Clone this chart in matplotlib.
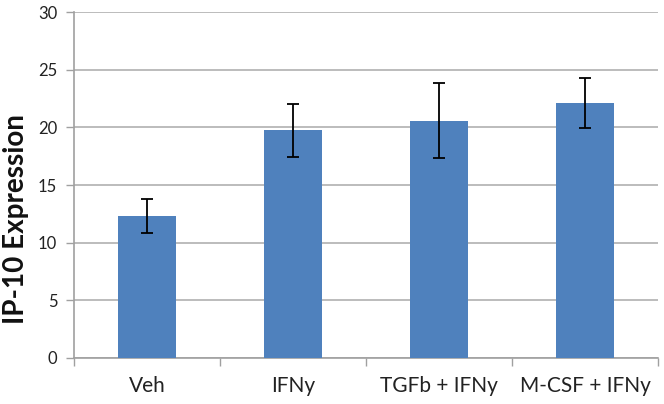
import matplotlib
matplotlib.use("Agg")
import matplotlib.pyplot as plt
import numpy as np

categories = ["Veh", "IFNy", "TGFb + IFNy", "M-CSF + IFNy"]
values = [12.3, 19.75, 20.6, 22.15]
errors = [1.48, 2.28, 3.25, 2.17]
yticks = [0, 5, 10, 15, 20, 25, 30]

plt.rcParams['font.family'] = ['Lato', 'DejaVu Sans']

fig = plt.figure(figsize=(6.64, 4.04), dpi=100)
ax = fig.add_axes([74/664, 1 - 357.7/404, 584/664, 345.4/404])

x = np.arange(len(categories))
ax.bar(x, values, width=0.4, color="#4F81BD", zorder=3)
ax.errorbar(x, values, yerr=errors, fmt='none', ecolor='black', elinewidth=1.3,
            capsize=4, capthick=1.3, zorder=4)

ax.set_xlim(-0.5, len(categories) - 0.5)
ax.set_ylim(0, 30)
ax.set_yticks(yticks)
ax.set_yticklabels([str(t) for t in yticks], fontsize=12, color='#222222')
ax.set_xticks(x)
ax.set_xticklabels(categories, fontsize=15, color='#222222')
ax.set_xticks(np.arange(-0.5, len(categories)), minor=True)
ax.tick_params(axis='x', which='major', length=0, pad=13)
ax.tick_params(axis='x', which='minor', length=6, color='#A0A0A0', width=1)
ax.tick_params(axis='y', which='major', length=6, color='#A0A0A0', width=1, pad=6)

ax.yaxis.grid(True, color='#B0B0B0', linewidth=1.2, zorder=0)
ax.set_axisbelow(True)
for s in ['top', 'right']:
    ax.spines[s].set_visible(False)
for s in ['left', 'bottom']:
    ax.spines[s].set_color('#A0A0A0')
    ax.spines[s].set_linewidth(1.2)

ax.set_ylabel("IP-10 Expression", fontsize=20, fontweight='bold', color='#111111')
ax.yaxis.set_label_coords(-0.077, 0.40)

fig.savefig("out.png", dpi=100)
